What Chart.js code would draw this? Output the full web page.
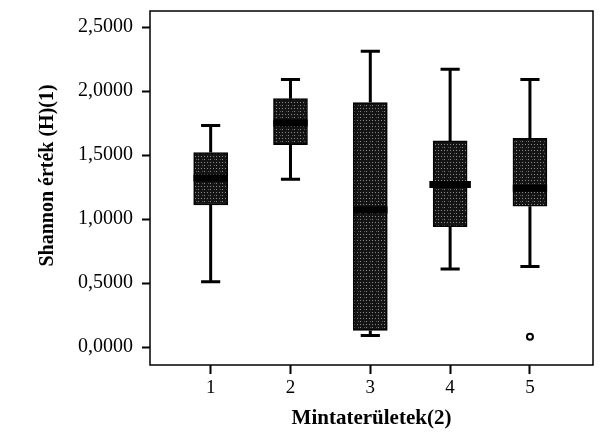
<!DOCTYPE html>
<html>
<head>
<meta charset="utf-8">
<script src="https://cdn.jsdelivr.net/npm/chart.js@4.4.1/dist/chart.umd.min.js"></script>
<style>
html,body{margin:0;padding:0;background:#fff;}
#wrap{width:602px;height:436px;}
</style>
</head>
<body>
<div id="wrap"><canvas id="c" width="602" height="436"></canvas></div>
<script>
// ---- data ----
const categories = [1, 2, 3, 4, 5];
const whiskerLow  = [0.51, 1.31, 0.09, 0.61, 0.63];
const q1          = [1.11, 1.58, 0.13, 0.94, 1.10];
const medians     = [1.32, 1.75, 1.07, 1.27, 1.24];
const q3          = [1.52, 1.94, 1.91, 1.61, 1.63];
const whiskerHigh = [1.73, 2.09, 2.31, 2.17, 2.09];
const outlierCat  = [5];
const outlierVal  = [0.08];
const yTicks = [0, 0.5, 1.0, 1.5, 2.0, 2.5];
const xTitle = 'Mintaterületek(2)';
const yTitle = 'Shannon érték (H)(1)';

// ---- pattern fill for boxes ----
function makePattern() {
  const t = document.createElement('canvas');
  t.width = 6; t.height = 6;
  const g = t.getContext('2d');
  g.fillStyle = '#141414';
  g.fillRect(0, 0, 6, 6);
  g.fillStyle = '#8c8c8c';
  g.fillRect(0, 0, 1, 1); g.fillRect(3, 0, 1, 1);
  g.fillRect(0, 3, 1, 1);
  g.fillStyle = '#555';
  g.fillRect(4, 3, 1, 1);
  const ctx = document.getElementById('c').getContext('2d');
  return ctx.createPattern(t, 'repeat');
}
const pattern = makePattern();

// whisker segments
const whiskerData = [];
categories.forEach((c, i) => {
  whiskerData.push({x: c, y: whiskerLow[i]}, {x: c, y: q1[i]}, {x: c, y: null});
  whiskerData.push({x: c, y: q3[i]}, {x: c, y: whiskerHigh[i]}, {x: c, y: null});
  whiskerData.push({x: c - 0.12, y: whiskerHigh[i]}, {x: c + 0.12, y: whiskerHigh[i]}, {x: c, y: null});
  whiskerData.push({x: c - 0.12, y: whiskerLow[i]}, {x: c + 0.12, y: whiskerLow[i]}, {x: c, y: null});
});
const medianData = [];
categories.forEach((c, i) => {
  const hw = c === 4 ? 0.26 : 0.215;
  medianData.push({x: c - hw, y: medians[i]}, {x: c + hw, y: medians[i]}, {x: c, y: null});
});

const framePlugin = {
  id: 'frame',
  afterDatasetsDraw(chart) {
    const {ctx, chartArea: a} = chart;
    ctx.save();
    ctx.strokeStyle = '#000';
    ctx.lineWidth = 1.5;
    ctx.strokeRect(a.left, a.top, a.right - a.left, a.bottom - a.top);
    ctx.restore();
  }
};

Chart.defaults.font.family = '"Liberation Serif", "Times New Roman", serif';
Chart.defaults.color = '#000';

new Chart(document.getElementById('c'), {
  type: 'bar',
  data: {
    datasets: [
      {
        type: 'line',
        data: whiskerData,
        borderColor: '#000',
        borderWidth: 3,
        pointRadius: 0,
        spanGaps: false,
        order: 3
      },
      {
        type: 'bar',
        data: categories.map((c, i) => ({x: c, y: [q1[i], q3[i]]})),
        backgroundColor: pattern,
        borderColor: '#000',
        borderWidth: 1.5,
        borderSkipped: false,
        barThickness: 34,
        order: 2
      },
      {
        type: 'line',
        data: medianData,
        borderColor: '#000',
        borderWidth: 7,
        borderCapStyle: 'butt',
        pointRadius: 0,
        spanGaps: false,
        order: 1
      },
      {
        type: 'scatter',
        data: outlierCat.map((c, i) => ({x: c, y: outlierVal[i]})),
        pointRadius: 3,
        pointBackgroundColor: '#fff',
        pointBorderColor: '#000',
        pointBorderWidth: 2,
        order: 0
      }
    ]
  },
  options: {
    responsive: false,
    animation: false,
    events: [],
    layout: {padding: {top: 11, right: 9, left: 0, bottom: 0}},
    plugins: {legend: {display: false}, tooltip: {enabled: false}},
    scales: {
      x: {
        type: 'linear',
        offset: false,
        min: 0.24,
        max: 5.79,
        afterBuildTicks(s) { s.ticks = categories.map(v => ({value: v})); },
        afterFit(s) { s.height = 71; s.paddingLeft = 0; s.paddingRight = 0; },
        grid: {offset: false, drawOnChartArea: false, drawTicks: true, tickLength: 9, tickWidth: 2, tickColor: '#000'},
        border: {display: false},
        ticks: {font: {size: 19}, padding: 3, callback: v => String(v)},
        title: {display: true, text: xTitle, font: {size: 21, weight: 'bold'}, padding: {top: 0, bottom: 5}}
      },
      y: {
        type: 'linear',
        min: -0.14,
        max: 2.625,
        afterBuildTicks(s) { s.ticks = yTicks.map(v => ({value: v})); },
        afterFit(s) { s.width = 150; s.paddingTop = 0; s.paddingBottom = 0; },
        grid: {drawOnChartArea: false, drawTicks: true, tickLength: 8, tickWidth: 2, tickColor: '#000'},
        border: {display: false},
        ticks: {font: {size: 20}, padding: 9, callback: v => v.toFixed(4).replace('.', ',')},
        title: {display: true, text: '\u00A0\u00A0\u00A0\u00A0\u00A0' + yTitle, font: {size: 20, weight: 'bold'}, padding: {top: 36, bottom: 0}}
      }
    }
  },
  plugins: [framePlugin]
});
</script>
</body>
</html>
